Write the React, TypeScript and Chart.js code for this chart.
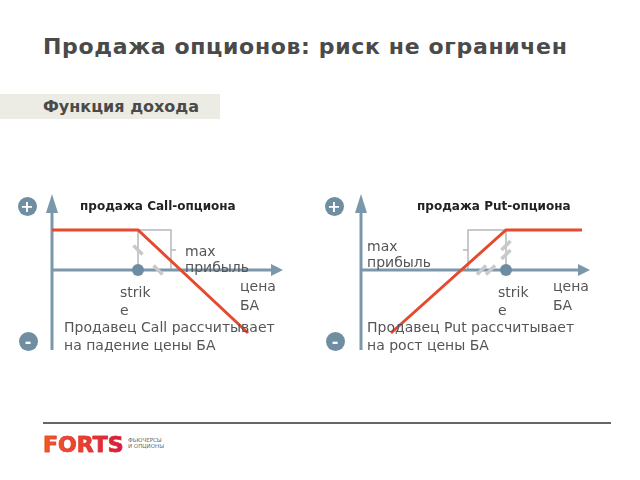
import React, { useEffect, useRef } from "react";
import { Chart, registerables } from "chart.js";

Chart.register(...registerables);

// ---- data (price of underlying vs. seller's profit) ----
const callPrice = [0, 86, 196];
const callProfit = [40, 40, -63];
const callStrike = 86;
const putPrice = [30, 145, 221];
const putProfit = [-63, 40, 40];
const putStrike = 145;
const premium = 40;

const AXIS = "#7b98ab";
const RED = "#e6492d";
const GRAY = "#b8b8b8";
const MARK = "#c9c9c9";
const TEXT = "#555555";
const FONT = "'DejaVu Sans', Verdana, sans-serif";

type Decor = {
  yTop: number;
  yBottom: number;
  xRight: number;
  strike: number;
  premium: number;
  dir: number; // bracket direction
  bw: number; // bracket width
  marks: number;
  slant: number;
};

const decorPlugin = {
  id: "payoffDecor",
  beforeDatasetsDraw(chart: any, _args: any, o: Decor) {
    const { ctx } = chart;
    const xs = chart.scales.x;
    const ys = chart.scales.y;
    const X = (v: number) => xs.getPixelForValue(v);
    const Y = (v: number) => ys.getPixelForValue(v);
    ctx.save();
    // bracket
    ctx.strokeStyle = GRAY;
    ctx.lineWidth = 1.5;
    ctx.beginPath();
    const K = o.strike;
    const P = o.premium;
    const xb = X(K) + o.dir * o.bw;
    ctx.moveTo(X(K), Y(0));
    ctx.lineTo(X(K), Y(P));
    ctx.lineTo(xb, Y(P));
    ctx.lineTo(xb, Y(0));
    ctx.moveTo(xb, Y(P / 2));
    ctx.lineTo(xb + o.dir * 5, Y(P / 2));
    ctx.stroke();

    // axes
    const x0 = X(0);
    const y0 = Y(0);
    ctx.strokeStyle = AXIS;
    ctx.fillStyle = AXIS;
    ctx.lineWidth = 3;
    ctx.beginPath();
    ctx.moveTo(x0, Y(o.yBottom));
    ctx.lineTo(x0, Y(o.yTop) + 14);
    ctx.moveTo(x0, y0);
    ctx.lineTo(X(o.xRight) - 8, y0);
    ctx.stroke();
    // vertical arrowhead
    ctx.beginPath();
    ctx.moveTo(x0, Y(o.yTop));
    ctx.lineTo(x0 - 6, Y(o.yTop) + 19);
    ctx.lineTo(x0 + 6, Y(o.yTop) + 19);
    ctx.closePath();
    ctx.fill();
    // horizontal arrowhead
    ctx.beginPath();
    ctx.moveTo(X(o.xRight), y0);
    ctx.lineTo(X(o.xRight) - 12, y0 - 6);
    ctx.lineTo(X(o.xRight) - 12, y0 + 6);
    ctx.closePath();
    ctx.fill();

    // equal-distance marks
    ctx.strokeStyle = MARK;
    ctx.lineWidth = 3.5;
    const mark = (cx: number, cy: number) => {
      ctx.beginPath();
      ctx.moveTo(cx - 4.5, cy - 4.5 * o.slant);
      ctx.lineTo(cx + 4.5, cy + 4.5 * o.slant);
      ctx.stroke();
    };
    const mx = X(K + o.dir * (P / 2));
    const my = Y(P / 2);
    if (o.marks === 1) {
      mark(mx, y0);
      mark(X(K), my);
    } else {
      mark(mx - 4.5, y0);
      mark(mx + 4.5, y0);
      mark(X(K), my - 4.5);
      mark(X(K), my + 4.5);
    }
    ctx.restore();
  },
};

function Payoff(props: {
  left: number;
  prices: number[];
  profits: number[];
  strike: number;
  xMin: number;
  xMax: number;
  decor: Decor;
}) {
  const ref = useRef<HTMLCanvasElement | null>(null);
  useEffect(() => {
    if (!ref.current) return;
    const chart = new Chart(ref.current, {
      type: "scatter",
      data: {
        datasets: [
          {
            data: props.prices.map((p, i) => ({ x: p, y: props.profits[i] })),
            showLine: true,
            borderColor: RED,
            borderWidth: 3,
            pointRadius: 0,
            fill: false,
            tension: 0,
          },
          {
            data: [{ x: props.strike, y: 0 }],
            pointRadius: 6,
            backgroundColor: "#6d8ca1",
            borderWidth: 0,
          },
        ],
      },
      options: {
        responsive: false,
        animation: false,
        devicePixelRatio: 1,
        layout: { padding: 0, autoPadding: false },
        scales: {
          x: { type: "linear", display: false, min: props.xMin, max: props.xMax },
          y: { type: "linear", display: false, min: -90, max: 85 },
        },
        plugins: {
          legend: { display: false },
          tooltip: { enabled: false },
          payoffDecor: props.decor,
        } as any,
      } as any,
      plugins: [decorPlugin as any],
    });
    return () => chart.destroy();
  }, []);
  return (
    <canvas
      ref={ref}
      width={290}
      height={175}
      style={{ position: "absolute", left: props.left, top: 185, width: 290, height: 175 }}
    />
  );
}

function T(props: {
  x: number;
  base: number;
  size: number;
  bold?: boolean;
  color?: string;
  spacing?: number;
  children: React.ReactNode;
}) {
  return (
    <div
      style={{
        position: "absolute",
        left: props.x,
        top: props.base - props.size * 0.846,
        fontFamily: FONT,
        fontSize: props.size,
        lineHeight: 1,
        fontWeight: props.bold ? "bold" : "normal",
        color: props.color || TEXT,
        letterSpacing: props.spacing || 0,
        whiteSpace: "nowrap",
      }}
    >
      {props.children}
    </div>
  );
}

function Sign(props: { cx: number; cy: number; s: string }) {
  return (
    <div
      style={{
        position: "absolute",
        left: props.cx - 9.5,
        top: props.cy - 9.5,
        width: 19,
        height: 19,
        borderRadius: "50%",
        background: "#6f8ea2",
        color: "#fff",
        fontFamily: FONT,
        fontWeight: "bold",
        fontSize: 16,
        lineHeight: "19px",
        textAlign: "center",
      }}
    >
      {props.s}
    </div>
  );
}

export default function App() {
  return (
    <div
      style={{
        position: "fixed",
        left: 0,
        top: 0,
        width: 640,
        height: 480,
        background: "#fff",
        overflow: "hidden",
      }}
    >
      <T x={43} base={55} size={22} bold color="#4a4a4a" spacing={0.65}>
        Продажа опционов: риск не ограничен
      </T>
      <div
        style={{ position: "absolute", left: 0, top: 94, width: 220, height: 25, background: "#ecebe4" }}
      />
      <T x={43} base={113} size={16} bold color="#4a4a4a">
        Функция дохода
      </T>

      <Payoff
        left={10}
        prices={callPrice}
        profits={callProfit}
        strike={callStrike}
        xMin={-42}
        xMax={248}
        decor={{
          yTop: 76,
          yBottom: -80,
          xRight: 231,
          strike: callStrike,
          premium,
          dir: 1,
          bw: 33,
          marks: 1,
          slant: 1,
        }}
      />
      <Payoff
        left={319}
        prices={putPrice}
        profits={putProfit}
        strike={putStrike}
        xMin={-42}
        xMax={248}
        decor={{
          yTop: 76,
          yBottom: -80,
          xRight: 229,
          strike: putStrike,
          premium,
          dir: -1,
          bw: 38,
          marks: 2,
          slant: -1,
        }}
      />

      <Sign cx={27} cy={206} s="+" />
      <Sign cx={28} cy={341} s="-" />
      <Sign cx={334} cy={206} s="+" />
      <Sign cx={335} cy={341} s="-" />

      <T x={80} base={210} size={12} bold color="#222">продажа Call-опциона</T>
      <T x={185} base={256} size={14}>max</T>
      <T x={185} base={272} size={14}>прибыль</T>
      <T x={120} base={297} size={14}>strik</T>
      <T x={120} base={315} size={14}>e</T>
      <T x={240} base={291} size={14}>цена</T>
      <T x={240} base={310} size={14}>БА</T>
      <T x={64} base={332} size={14}>Продавец Call рассчитывает</T>
      <T x={64} base={350} size={14}>на падение цены БА</T>

      <T x={417} base={210} size={12} bold color="#222">продажа Put-опциона</T>
      <T x={367} base={251} size={14}>max</T>
      <T x={367} base={267} size={14}>прибыль</T>
      <T x={498} base={297} size={14}>strik</T>
      <T x={498} base={315} size={14}>e</T>
      <T x={553} base={291} size={14}>цена</T>
      <T x={553} base={310} size={14}>БА</T>
      <T x={367} base={332} size={14}>Продавец Put рассчитывает</T>
      <T x={367} base={350} size={14}>на рост цены БА</T>

      <div style={{ position: "absolute", left: 43, top: 422, width: 568, height: 1.5, background: "#666" }} />

      <div
        style={{
          position: "absolute",
          left: 43,
          top: 432,
          fontFamily: FONT,
          fontWeight: 900,
          fontSize: 22,
          lineHeight: "26px",
          letterSpacing: 0,
          background: "linear-gradient(90deg, #ef5a2a 0%, #e8402f 50%, #d4173f 100%)",
          WebkitBackgroundClip: "text",
          backgroundClip: "text",
          color: "transparent",
          WebkitTextStroke: "0.6px #e0303a",
        }}
      >
        FORTS
      </div>
      <div
        style={{
          position: "absolute",
          left: 128,
          top: 437,
          fontFamily: FONT,
          fontSize: 5.5,
          lineHeight: "6px",
          color: "#666",
        }}
      >
        ФЬЮЧЕРСЫ
        <br />И ОПЦИОНЫ
      </div>
    </div>
  );
}
